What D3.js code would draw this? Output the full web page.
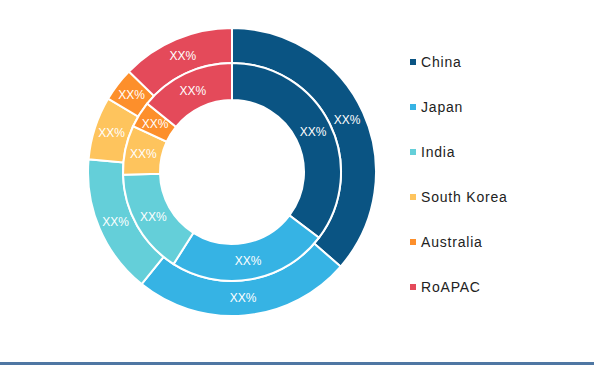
<!DOCTYPE html>
<html>
<head>
<meta charset="utf-8">
<script src="https://cdn.jsdelivr.net/npm/d3@7"></script>
<style>
  body { margin: 0; background: #fff; }
  svg { display: block; }
</style>
</head>
<body>
<div class="chart"></div>
<script>
// regions, same order in both rings
var regions = ["China", "Japan", "India", "South Korea", "Australia", "RoAPAC"];
var colors = ["#0a5483", "#36b3e4", "#64cfd9", "#fec45d", "#fd8f2b", "#e44a5a"];

// outer ring shares (%)
var outerValues = [36.4, 24.4, 15.6, 7.1, 3.8, 12.7];
// inner ring shares (%)
var innerValues = [35.3, 23.7, 15.6, 7.3, 3.9, 14.2];

var labelText = "XX%";

var svgWidth = 594;
var svgHeight = 367;

var svg = d3.select(".chart")
  .append("svg")
  .attr("width", svgWidth)
  .attr("height", svgHeight);

var cx = 232, cy = 172;

var chartGroup = svg.append("g")
  .attr("transform", `translate(${cx}, ${cy})`);

var pie = d3.pie()
  .sort(null)
  .value(d => d);

var outerArc = d3.arc()
  .innerRadius(109)
  .outerRadius(144);

var innerArc = d3.arc()
  .innerRadius(72)
  .outerRadius(109);

function drawRing(values, arc, cls) {
  var g = chartGroup.append("g").attr("class", cls);

  g.selectAll("path")
    .data(pie(values))
    .enter()
    .append("path")
    .attr("d", arc)
    .attr("fill", (d, i) => colors[i])
    .attr("stroke", "#fff")
    .attr("stroke-width", 2);

  g.selectAll("text")
    .data(pie(values))
    .enter()
    .append("text")
    .attr("transform", d => `translate(${arc.centroid(d)})`)
    .attr("text-anchor", "middle")
    .attr("dy", "0.35em")
    .style("font", "12px 'Liberation Sans', Arial, sans-serif")
    .style("fill", "#fff")
    .text(labelText);
}

drawRing(outerValues, outerArc, "outer");
drawRing(innerValues, innerArc, "inner");

// legend
var legendY = d3.scalePoint()
  .domain(regions)
  .range([62, 287]);

var legend = svg.append("g")
  .selectAll("g")
  .data(regions)
  .enter()
  .append("g")
  .attr("transform", d => `translate(410, ${legendY(d)})`);

legend.append("rect")
  .attr("x", 0)
  .attr("y", -3)
  .attr("width", 6)
  .attr("height", 6)
  .attr("fill", (d, i) => colors[i]);

legend.append("text")
  .attr("x", 11)
  .attr("dy", "0.36em")
  .style("font", "14px 'Liberation Sans', Arial, sans-serif")
  .style("letter-spacing", "0.8px")
  .style("fill", "#222")
  .text(d => d);

// bottom rule
svg.append("rect")
  .attr("x", 0)
  .attr("y", 362)
  .attr("width", svgWidth)
  .attr("height", 3)
  .attr("fill", "#4f77a3");
</script>
</body>
</html>
